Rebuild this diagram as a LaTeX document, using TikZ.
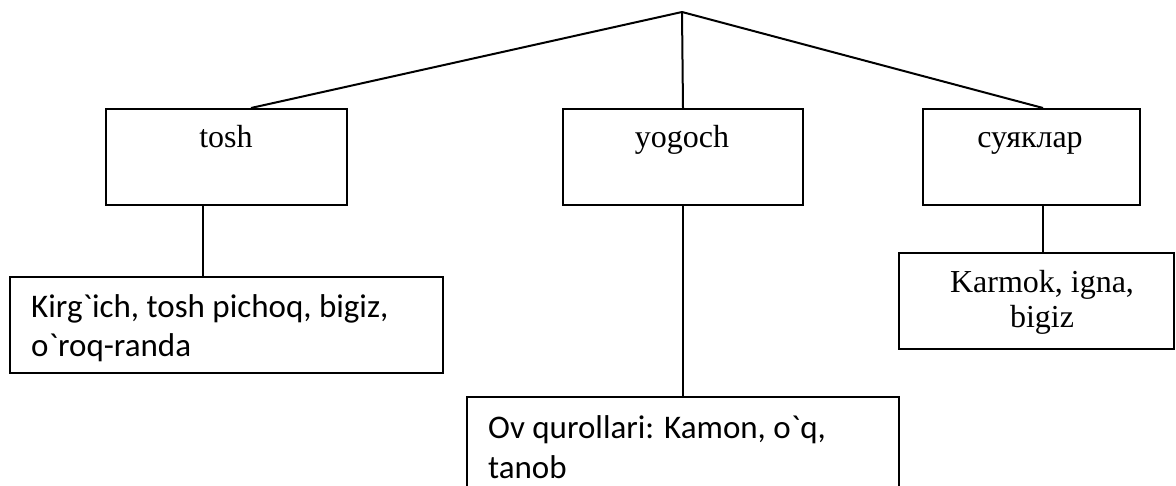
\documentclass[tikz,border=0pt]{standalone}
\usepackage{fontspec}
\setmainfont{Liberation Serif}
\newfontfamily\sansf[Ligatures=TeXOff]{Carlito}
\begin{document}
\begin{tikzpicture}[x=1pt,y=-1pt,
  box/.style={draw=black,line width=2pt,fill=white,inner sep=0pt,anchor=north west},
  serif/.style={inner sep=0pt,anchor=base,font=\fontsize{32}{35}\selectfont,align=center},
  sanstext/.style={inner sep=0pt,anchor=base west,font=\sansf\fontsize{33}{39.5}\selectfont,align=left},
  conn/.style={line width=2pt}]
\useasboundingbox (0,0) rectangle (1176,486);
\clip (0,0) rectangle (1176,486);
\fill[white] (0,0) rectangle (1176,486);

\coordinate (apex) at (682,12);

% upper boxes
\node[box,minimum width=241,minimum height=96] (tosh) at (105,108) {};
\node[box,minimum width=240,minimum height=96] (yogoch) at (562,108) {};
\node[box,minimum width=217,minimum height=96] (suyak) at (922,108) {};

\node[serif] (toshT) at (226,148) {tosh};
\node[serif] (yogochT) at (682,148) {yogoch};
\node[serif] (suyakT) at (1030,148) {суяклар};

% lower boxes
\node[box,minimum width=433,minimum height=96] (kirg) at (9,276) {};
\node[box,minimum width=275,minimum height=96] (karmok) at (898,252) {};
\node[box,minimum width=432,minimum height=120] (ov) at (466,396) {};

% multi-line texts: base anchor is the baseline of the last line
\node[sanstext] (kirgT) at (31,357) {Kirg`ich, tosh pichoq, bigiz,\\o`roq-randa};
\node[serif] (karmokT) at (1042,328) {Karmok, igna,\\bigiz};
\node[sanstext] (ovT) at (488,478) {Ov qurollari: Kamon, o`q,\\tanob};

% connector attachment points
\coordinate (toshIn) at ([xshift=24.5pt]tosh.north);
\coordinate (suyakIn) at ([xshift=11.5pt]suyak.north);
\coordinate (toshOut) at ([xshift=-23.5pt]tosh.south);
\coordinate (suyakOut) at ([xshift=11.5pt]suyak.south);

% connectors
\draw[conn] (apex) -- (toshIn);
\draw[conn] (apex) -- (yogoch.north);
\draw[conn] (apex) -- (suyakIn);

\draw[conn] (toshOut) -- (kirg.north -| toshOut);
\draw[conn] (yogoch.south) -- (ov.north -| yogoch.south);
\draw[conn] (suyakOut) -- (karmok.north -| suyakOut);
\end{tikzpicture}
\end{document}
